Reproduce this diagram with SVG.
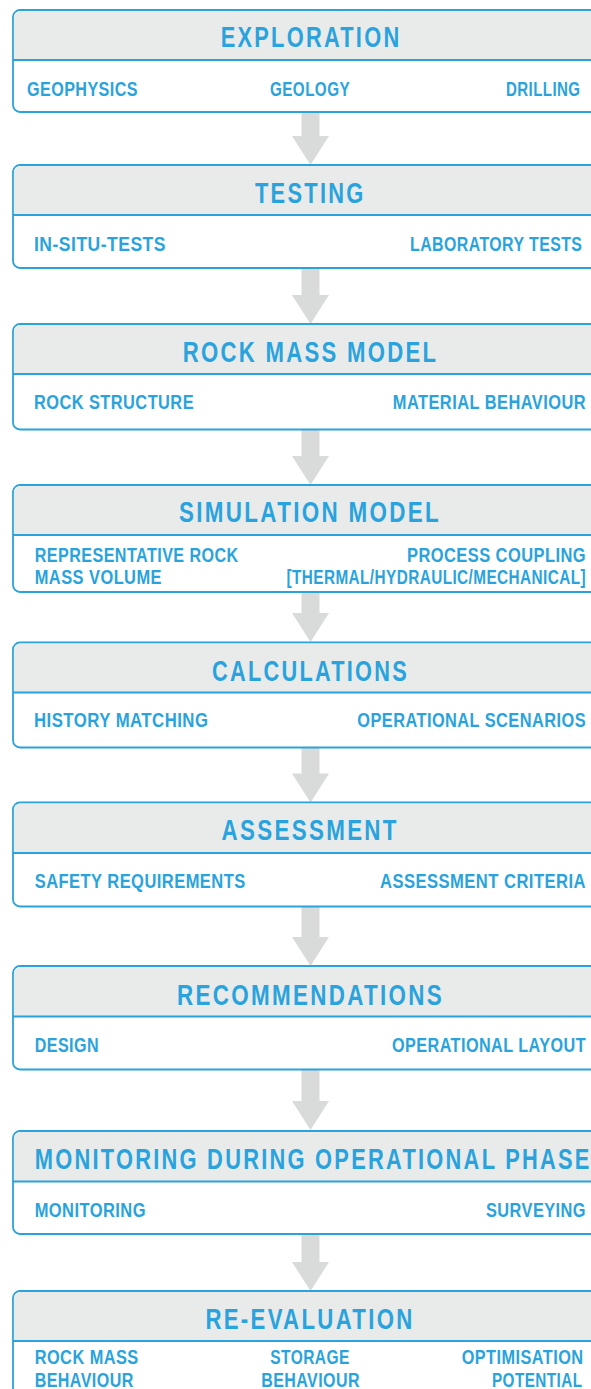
<svg xmlns="http://www.w3.org/2000/svg" width="591" height="1389" viewBox="0 0 591 1389">
<style>
.box{fill:#ffffff;stroke:#29a2dd;stroke-width:1.8}
.hd{fill:#e9ebeb}
.dv{stroke:#29a2dd;stroke-width:1.8}
.t{font-family:"Liberation Sans",Arial,sans-serif;font-weight:bold;font-size:29px;fill:#29a3dd;letter-spacing:3px}
.s{font-family:"Liberation Sans",Arial,sans-serif;font-weight:bold;font-size:21px;fill:#29a3dd;letter-spacing:0.6px}
.ar{fill:#d9dada}
</style>
<rect width="591" height="1389" fill="#ffffff"/>
<g id="connectors">
<polygon class="ar" points="301.5,112 319.5,112 319.5,136 329,136 310.5,165 292,136 301.5,136"/>
<polygon class="ar" points="301.5,268 319.5,268 319.5,295 329,295 310.5,324 292,295 301.5,295"/>
<polygon class="ar" points="301.5,429.5 319.5,429.5 319.5,456 329,456 310.5,485 292,456 301.5,456"/>
<polygon class="ar" points="301.5,592 319.5,592 319.5,613 329,613 310.5,642 292,613 301.5,613"/>
<polygon class="ar" points="301.5,747.5 319.5,747.5 319.5,773.5 329,773.5 310.5,802.5 292,773.5 301.5,773.5"/>
<polygon class="ar" points="301.5,906.5 319.5,906.5 319.5,937 329,937 310.5,966 292,937 301.5,937"/>
<polygon class="ar" points="301.5,1069.5 319.5,1069.5 319.5,1101 329,1101 310.5,1130 292,1101 301.5,1101"/>
<polygon class="ar" points="301.5,1234 319.5,1234 319.5,1262 329,1262 310.5,1291 292,1262 301.5,1262"/>
</g>
<g id="exploration">
<rect class="box" x="13" y="10" width="596" height="102" rx="7"/>
<path class="hd" d="M13.9,60 V17 A6.1,6.1 0 0 1 20,10.9 H609 V60 Z"/>
<line class="dv" x1="13" y1="60" x2="609" y2="60"/>
<text class="t" x="220.7" y="46.7" textLength="180.7" lengthAdjust="spacingAndGlyphs">EXPLORATION</text>
<text class="s" x="27" y="95.5" textLength="111" lengthAdjust="spacingAndGlyphs">GEOPHYSICS</text>
<text class="s" x="270" y="95.5" textLength="80" lengthAdjust="spacingAndGlyphs">GEOLOGY</text>
<text class="s" x="506" y="95.5" textLength="74.5" lengthAdjust="spacingAndGlyphs">DRILLING</text>
</g>
<g id="testing">
<rect class="box" x="13" y="165" width="596" height="103" rx="7"/>
<path class="hd" d="M13.9,215 V172 A6.1,6.1 0 0 1 20,165.9 H609 V215 Z"/>
<line class="dv" x1="13" y1="215" x2="609" y2="215"/>
<text class="t" x="255" y="203.3" textLength="110.6" lengthAdjust="spacingAndGlyphs">TESTING</text>
<text class="s" x="34" y="251" textLength="132" lengthAdjust="spacingAndGlyphs">IN-SITU-TESTS</text>
<text class="s" x="410" y="251" textLength="172.4" lengthAdjust="spacingAndGlyphs">LABORATORY TESTS</text>
</g>
<g id="rock-mass-model">
<rect class="box" x="13" y="324" width="596" height="105.5" rx="7"/>
<path class="hd" d="M13.9,374 V331 A6.1,6.1 0 0 1 20,324.9 H609 V374 Z"/>
<line class="dv" x1="13" y1="374" x2="609" y2="374"/>
<text class="t" x="182.8" y="362.3" textLength="255.6" lengthAdjust="spacingAndGlyphs">ROCK MASS MODEL</text>
<text class="s" x="34" y="409.3" textLength="160" lengthAdjust="spacingAndGlyphs">ROCK STRUCTURE</text>
<text class="s" x="392.8" y="409.3" textLength="193.2" lengthAdjust="spacingAndGlyphs">MATERIAL BEHAVIOUR</text>
</g>
<g id="simulation-model">
<rect class="box" x="13" y="485" width="596" height="107" rx="7"/>
<path class="hd" d="M13.9,535 V492 A6.1,6.1 0 0 1 20,485.9 H609 V535 Z"/>
<line class="dv" x1="13" y1="535" x2="609" y2="535"/>
<text class="t" x="179" y="522.3" textLength="262" lengthAdjust="spacingAndGlyphs">SIMULATION MODEL</text>
<text class="s" x="34.7" y="562.3" textLength="204" lengthAdjust="spacingAndGlyphs">REPRESENTATIVE ROCK</text>
<text class="s" x="34.7" y="584.3" textLength="127.3" lengthAdjust="spacingAndGlyphs">MASS VOLUME</text>
<text class="s" x="407" y="562.3" textLength="179" lengthAdjust="spacingAndGlyphs">PROCESS COUPLING</text>
<text class="s" x="286.5" y="584.3" textLength="299.5" lengthAdjust="spacingAndGlyphs">[THERMAL/HYDRAULIC/MECHANICAL]</text>
</g>
<g id="calculations">
<rect class="box" x="13" y="642.5" width="596" height="105" rx="7"/>
<path class="hd" d="M13.9,692.5 V649.5 A6.1,6.1 0 0 1 20,643.4 H609 V692.5 Z"/>
<line class="dv" x1="13" y1="692.5" x2="609" y2="692.5"/>
<text class="t" x="212" y="680.7" textLength="197" lengthAdjust="spacingAndGlyphs">CALCULATIONS</text>
<text class="s" x="34" y="726.7" textLength="174.4" lengthAdjust="spacingAndGlyphs">HISTORY MATCHING</text>
<text class="s" x="357.3" y="726.7" textLength="228.7" lengthAdjust="spacingAndGlyphs">OPERATIONAL SCENARIOS</text>
</g>
<g id="assessment">
<rect class="box" x="13" y="802.5" width="596" height="104" rx="7"/>
<path class="hd" d="M13.9,853 V809.5 A6.1,6.1 0 0 1 20,803.4 H609 V853 Z"/>
<line class="dv" x1="13" y1="853" x2="609" y2="853"/>
<text class="t" x="221.6" y="840" textLength="177.2" lengthAdjust="spacingAndGlyphs">ASSESSMENT</text>
<text class="s" x="34.7" y="888.3" textLength="211" lengthAdjust="spacingAndGlyphs">SAFETY REQUIREMENTS</text>
<text class="s" x="380" y="888.3" textLength="206" lengthAdjust="spacingAndGlyphs">ASSESSMENT CRITERIA</text>
</g>
<g id="recommendations">
<rect class="box" x="13" y="966" width="596" height="103.5" rx="7"/>
<path class="hd" d="M13.9,1016.5 V973 A6.1,6.1 0 0 1 20,966.9 H609 V1016.5 Z"/>
<line class="dv" x1="13" y1="1016.5" x2="609" y2="1016.5"/>
<text class="t" x="177" y="1005" textLength="267" lengthAdjust="spacingAndGlyphs">RECOMMENDATIONS</text>
<text class="s" x="34.7" y="1051.7" textLength="64.3" lengthAdjust="spacingAndGlyphs">DESIGN</text>
<text class="s" x="392" y="1051.7" textLength="194" lengthAdjust="spacingAndGlyphs">OPERATIONAL LAYOUT</text>
</g>
<g id="monitoring">
<rect class="box" x="13" y="1131" width="596" height="103" rx="7"/>
<path class="hd" d="M13.9,1181.5 V1138 A6.1,6.1 0 0 1 20,1131.9 H609 V1181.5 Z"/>
<line class="dv" x1="13" y1="1181.5" x2="609" y2="1181.5"/>
<text class="t" x="34.7" y="1169" textLength="557" lengthAdjust="spacingAndGlyphs">MONITORING DURING OPERATIONAL PHASE</text>
<text class="s" x="34.7" y="1216.7" textLength="111.3" lengthAdjust="spacingAndGlyphs">MONITORING</text>
<text class="s" x="486" y="1216.7" textLength="100" lengthAdjust="spacingAndGlyphs">SURVEYING</text>
</g>
<g id="re-evaluation">
<rect class="box" x="13" y="1291" width="596" height="120" rx="7"/>
<path class="hd" d="M13.9,1341 V1298 A6.1,6.1 0 0 1 20,1291.9 H609 V1341 Z"/>
<line class="dv" x1="13" y1="1341" x2="609" y2="1341"/>
<text class="t" x="205.4" y="1329" textLength="209.2" lengthAdjust="spacingAndGlyphs">RE-EVALUATION</text>
<text class="s" x="34.7" y="1364.3" textLength="104" lengthAdjust="spacingAndGlyphs">ROCK MASS</text>
<text class="s" x="34.7" y="1387.3" textLength="99" lengthAdjust="spacingAndGlyphs">BEHAVIOUR</text>
<text class="s" x="270.3" y="1364.3" textLength="79.5" lengthAdjust="spacingAndGlyphs">STORAGE</text>
<text class="s" x="261.2" y="1387.3" textLength="98.8" lengthAdjust="spacingAndGlyphs">BEHAVIOUR</text>
<text class="s" x="461.7" y="1364.3" textLength="121.8" lengthAdjust="spacingAndGlyphs">OPTIMISATION</text>
<text class="s" x="492" y="1387.3" textLength="90.4" lengthAdjust="spacingAndGlyphs">POTENTIAL</text>
</g>
</svg>
